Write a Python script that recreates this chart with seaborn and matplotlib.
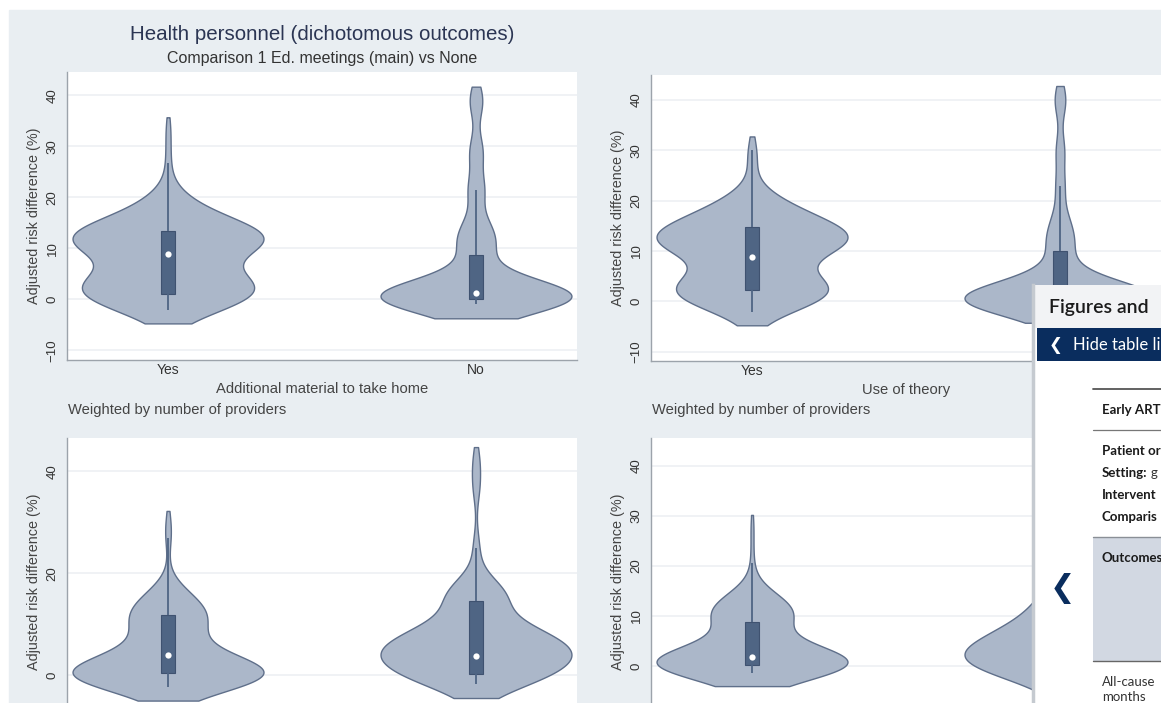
import matplotlib.pyplot as plt
import numpy as np
import pandas as pd
import seaborn as sns
from matplotlib.patches import Rectangle

FIG_W, FIG_H = 1161, 703

GROUPS = ["Yes", "No"]

# Adjusted risk difference (%) per study, and number of providers per study
TAKE_HOME_YES = [-2, -1, 0, 0.5, 1, 1, 2, 3, 4, 6, 8.8, 10, 11, 12, 13, 13.4,
                 15, 17, 20, 26.8, 33]
TAKE_HOME_YES_N = [7, 4, 3, 3, 3, 3, 7, 8, 8, 6, 5, 8, 8, 8, 7, 7, 7, 6, 4, 1, 1]
TAKE_HOME_NO = [-1, -0.5, -0.2, 0, 0.1, 0.1, 0.3, 0.6, 0.9, 1.0, 1.2, 1.8, 2.5,
                3.5, 5, 8.7, 11, 14, 21.5, 29, 39]
TAKE_HOME_NO_N = [6, 6, 6, 6, 6, 6, 6, 6, 6, 6, 6, 6, 4, 3, 3, 4, 7, 7, 6, 5, 5]

THEORY_YES = [-2, -1, 0, 1, 2, 2.2, 3, 4, 5, 7, 8.9, 10.5, 11.5, 12.5, 13.5,
              14.7, 16.5, 18.5, 21, 28, 30]
THEORY_YES_N = [2, 3, 4, 5, 5, 5, 5, 5, 3, 3, 4, 7, 8, 8, 8, 7, 7, 6, 3, 1, 1]
THEORY_NO = [-1.5, -1, -0.5, 0, 0.2, 0.2, 0.4, 0.7, 1, 1.3, 1.6, 2, 2.8, 4, 6,
             10, 12.5, 16, 22.9, 30, 40]
THEORY_NO_N = [5, 6, 6, 6, 6, 6, 6, 6, 6, 6, 6, 5, 4, 3, 3, 4, 5, 4, 3, 3, 4]

LOWER_LEFT_YES = [-2.2, -1.5, -1, -0.2, 0.2, 0.5, 0.8, 1.2, 2, 3, 4, 5, 6.5,
                  8.5, 10, 11.8, 13, 15, 17, 27, 29.5]
LOWER_LEFT_YES_N = [6, 6, 6, 7, 7, 7, 7, 7, 6, 5, 4, 3, 3, 5, 6, 6, 6, 6, 2, 1, 1]
LOWER_LEFT_NO = [-1.7, -1.2, -0.8, -0.3, 0, 0.2, 0.8, 1.5, 2.5, 3.2, 3.9, 5,
                 6.5, 8, 10, 14.5, 16, 18, 25, 37, 42]
LOWER_LEFT_NO_N = [5, 4, 4, 4, 4, 4, 4, 5, 6, 8, 10, 14, 14, 12, 11, 9, 7, 5, 2,
                   2, 2]

LOWER_RIGHT_YES = [-1.3, -1, -0.5, 0, 0.2, 0.3, 0.6, 1, 1.3, 1.6, 1.9, 2.5,
                   3.5, 5, 7, 8.8, 10.5, 12, 14, 20.6, 27.5]
LOWER_RIGHT_YES_N = [7, 6, 6, 6, 6, 6, 6, 6, 6, 6, 6, 5, 4, 3, 3, 7, 10, 10, 5,
                     1, 1]
LOWER_RIGHT_NO = [-2.5, -2, -1, 0, 0.5, 1, 1.5, 2, 3, 3.5, 4, 5, 6, 7, 8, 10,
                  12, 14, 17, 21, 26]
LOWER_RIGHT_NO_N = [5, 5, 6, 6, 6, 6, 6, 6, 6, 6, 6, 6, 6, 6, 6, 5, 5, 4, 3, 2,
                    1]

TITLE = "Health personnel (dichotomous outcomes)"
SUBTITLE = "Comparison 1 Ed. meetings (main) vs None"
Y_LABEL = "Adjusted risk difference (%)"
NOTE = "Weighted by number of providers"

BG = "#e9eef2"
FILL = "#abb7c9"
EDGE = "#5f6f8a"
BOX = "#4f6584"
NAVY = "#0a2d5e"

KERNEL_BW = 3.2  # common kernel bandwidth, percentage points


def fixed_bw(kde):
    return KERNEL_BW / np.std(kde.dataset, ddof=1)


def px_axes(fig, left, top, right, bottom, **kw):
    return fig.add_axes([left / FIG_W, 1 - bottom / FIG_H,
                         (right - left) / FIG_W, (bottom - top) / FIG_H], **kw)


def draw_panel(ax, yes, yes_n, no, no_n, ylim, yticks, xlabel=None,
               show_x=True):
    studies = pd.DataFrame({
        "group": ["Yes"] * len(yes) + ["No"] * len(no),
        "rd": yes + no,
        "providers": yes_n + no_n,
    })
    # density weighted by providers
    weighted = studies.loc[studies.index.repeat(studies["providers"])]
    sns.violinplot(
        data=weighted, x="group", y="rd", order=GROUPS, ax=ax,
        color=FILL, saturation=1, linecolor=EDGE, linewidth=1,
        width=0.62, density_norm="width", cut=0.85, gridsize=250,
        bw_method=fixed_bw, inner=None,
    )
    sns.boxplot(
        data=studies, x="group", y="rd", order=GROUPS, ax=ax,
        width=0.046, color=BOX, saturation=1, linecolor="#3f5270",
        linewidth=0.8, showfliers=False, showcaps=False, whis=1.5,
        whiskerprops=dict(color=BOX, linewidth=1.3),
        medianprops=dict(visible=False), zorder=3,
    )
    sns.pointplot(
        data=studies, x="group", y="rd", order=GROUPS, ax=ax,
        estimator="median", errorbar=None, color="white", marker="o",
        markersize=4.5, markeredgewidth=0, linestyle="none", zorder=5,
    )
    ax.set_facecolor("white")
    ax.set_xlim(-0.328, 1.328)
    ax.set_ylim(*ylim)
    ax.set_yticks(yticks)
    ax.yaxis.grid(True, color="#edf0f3", linewidth=1.2)
    ax.xaxis.grid(False)
    ax.set_axisbelow(True)
    for side in ("top", "right"):
        ax.spines[side].set_visible(False)
    for side in ("left", "bottom"):
        ax.spines[side].set_color("#9ca3ab")
        ax.spines[side].set_linewidth(1)
    ax.tick_params(axis="y", length=4, width=0.8, color="#9ca3ab", pad=2,
                   labelrotation=90, labelsize=9.5, labelcolor="#333333")
    ax.tick_params(axis="x", length=0, pad=2, labelsize=10,
                   labelcolor="#333333", labelbottom=show_x)
    for lab in ax.get_yticklabels():
        lab.set_verticalalignment("center")
    ax.set_ylabel(Y_LABEL, fontsize=10.4, color="#444444", labelpad=4)
    ax.set_xlabel(xlabel or "", fontsize=10.6, color="#444444", labelpad=4)


def draw_sidebar(fig):
    side = px_axes(fig, 1033, 285, 1161, 703, zorder=20)
    side.set_xlim(1033, 1161)
    side.set_ylim(703, 285)
    side.set_xticks([])
    side.set_yticks([])
    for name, sp in side.spines.items():
        sp.set_visible(name == "left")
    side.spines["left"].set_color("#c5cad0")
    side.spines["left"].set_linewidth(2.5)
    side.set_facecolor("white")

    side.add_patch(Rectangle((1033, 285), 128, 43, color="#f2f3f5", lw=0))
    side.add_patch(Rectangle((1037, 328), 124, 33, color=NAVY, lw=0))
    side.add_patch(Rectangle((1093, 537), 68, 124, facecolor="#d2d8e2",
                             edgecolor="none"))
    side.axhline(389, xmin=60 / 128, color="#555555", lw=1.3)
    side.axhline(430, xmin=60 / 128, color="#777777", lw=0.9)
    side.axhline(537, xmin=60 / 128, color="#8a8f96", lw=1.0)
    side.axhline(661, xmin=60 / 128, color="#666666", lw=1.0)

    font = ["Lato", "DejaVu Sans"]
    side.text(1049, 307, "Figures and", fontsize=14, fontweight="semibold",
              color="#1b1b1b", va="center", family=font)
    side.text(1049, 345, "\u276e", fontsize=12, color="white", va="center",
              fontweight="bold", family=["DejaVu Sans"])
    side.text(1073, 345, "Hide table li", fontsize=12, color="white",
              va="center", family=font)
    rows = [(410, "Early ART"), (451, "Patient or"), (495, "Intervent"),
            (517, "Comparis"), (558, "Outcomes")]
    for y, s in rows:
        side.text(1102, y, s, fontsize=9.5, fontweight="bold", color="#1b1b1b",
                  va="center", family=font)
    t = side.text(1102, 473, "Setting:", fontsize=9.5, fontweight="bold",
                  color="#1b1b1b", va="center", family=font)
    side.annotate("g", xy=(1, 0.5), xycoords=t, xytext=(2, 0),
                  textcoords="offset points", va="center", fontsize=9.5,
                  color="#333333", family=font, annotation_clip=False)
    side.text(1102, 682, "All-cause", fontsize=9.5, color="#333333",
              va="center", family=font)
    side.text(1102, 697, "months", fontsize=9.5, color="#333333",
              va="center", family=font)
    side.text(1062, 588, "\u276e", fontsize=22, color=NAVY, ha="center",
              va="center", fontweight="bold", family=["DejaVu Sans"])


def build_figure():
    fig = plt.figure(figsize=(FIG_W / 100, FIG_H / 100), dpi=100,
                     facecolor="white")
    fig.add_artist(Rectangle((9 / FIG_W, 0), 1, 1 - 10 / FIG_H,
                             transform=fig.transFigure, color=BG, zorder=0))

    ax1 = px_axes(fig, 67, 72, 577, 360)
    draw_panel(ax1, TAKE_HOME_YES, TAKE_HOME_YES_N, TAKE_HOME_NO,
               TAKE_HOME_NO_N, (-11.9, 44.6), [-10, 0, 10, 20, 30, 40],
               "Additional material to take home")
    ax2 = px_axes(fig, 651, 75, 1161, 361)
    draw_panel(ax2, THEORY_YES, THEORY_YES_N, THEORY_NO, THEORY_NO_N,
               (-11.8, 44.9), [-10, 0, 10, 20, 30, 40], "Use of theory")
    ax3 = px_axes(fig, 67, 438, 577, 726)
    draw_panel(ax3, LOWER_LEFT_YES, LOWER_LEFT_YES_N, LOWER_LEFT_NO,
               LOWER_LEFT_NO_N, (-9.9, 46.5), [0, 20, 40], show_x=False)
    ax4 = px_axes(fig, 651, 438, 1161, 726)
    draw_panel(ax4, LOWER_RIGHT_YES, LOWER_RIGHT_YES_N, LOWER_RIGHT_NO,
               LOWER_RIGHT_NO_N, (-12, 45.6), [0, 10, 20, 30, 40],
               show_x=False)

    fig.text(322 / FIG_W, 1 - 35 / FIG_H, TITLE, fontsize=14.8,
             color="#2b3553", ha="center", va="center")
    fig.text(322 / FIG_W, 1 - 59 / FIG_H, SUBTITLE, fontsize=11.5,
             color="#333333", ha="center", va="center")
    for x in (68, 652):
        fig.text(x / FIG_W, 1 - 410 / FIG_H, NOTE, fontsize=10.6,
                 color="#444444", ha="left", va="center")

    draw_sidebar(fig)
    return fig


def main():
    sns.set_theme(style="white")
    plt.rcParams["font.family"] = ["Liberation Sans", "DejaVu Sans"]
    fig = build_figure()
    fig.savefig("out.png", dpi=100, facecolor="white")


if __name__ == "__main__":
    main()
